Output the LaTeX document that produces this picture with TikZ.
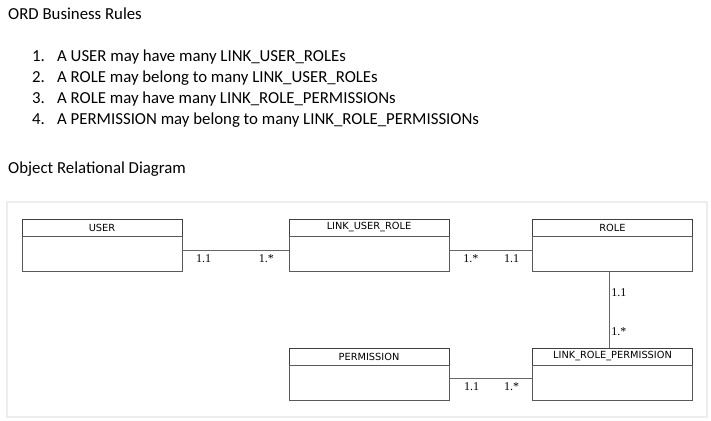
\documentclass[tikz,border=0pt]{standalone}
\usepackage{fontspec}
\setmainfont{Carlito}
\newfontfamily\boxfont{DejaVu Sans}
\newfontfamily\multfont{Liberation Serif}
\usetikzlibrary{positioning}

\tikzstyle{head} = [draw=black!75, minimum width=160pt, minimum height=17pt, inner sep=0pt, font=\boxfont\fontsize{9.8}{11}\selectfont]
\tikzstyle{body} = [draw=black!65, minimum width=160pt, minimum height=35pt, inner sep=0pt]
\tikzstyle{mult} = [font=\multfont\fontsize{12}{13}\selectfont, inner sep=1pt]
\tikzstyle{link} = [draw=black!60, line width=0.8pt]

\begin{document}
\begin{tikzpicture}[x=1pt,y=-1pt,font=\fontsize{16.8}{20}\selectfont]
\useasboundingbox (0,0) rectangle (711,420);
\node [anchor=base west, inner sep=0pt] (title) at (8,20) {ORD Business Rules};
\foreach \txt [count=\i] in {A USER may have many LINK\_USER\_ROLEs,
		A ROLE may belong to many LINK\_USER\_ROLEs,
		A ROLE may have many LINK\_ROLE\_PERMISSIONs,
		A PERMISSION may belong to many LINK\_ROLE\_PERMISSIONs}
	{
	\node [anchor=base west, inner sep=0pt] (n\i) at (32,41.3+20.7*\i) {\i.};
	\node [anchor=base west, inner sep=0pt] (r\i) at (57,41.3+20.7*\i) {\txt};
	}
\node [anchor=base west, inner sep=0pt] (ord) at (8,173) {Object Relational Diagram};
\draw [black!7, line width=1.5pt] (7,202) rectangle (707,417);

% classes
\node [head] (u) at (102,227.5) {USER};
\node [body, below=0pt of u] (ub) {};
\node [head] (lur) at (369,227.5) {LINK\_USER\_ROLE};
\node [body, below=0pt of lur] (lurb) {};
\node [head] (r) at (612.5,227.5) {ROLE};
\node [body, below=0pt of r] (rb) {};
\node [head] (p) at (369,356.5) {PERMISSION};
\node [body, below=0pt of p] (pb) {};
\node [head] (lrp) at (612.5,356.5) {LINK\_ROLE\_PERMISSION};
\node [body, below=0pt of lrp] (lrpb) {};

% associations
\draw [link] ([yshift=3.5pt]ub.east) -- ([yshift=3.5pt]lurb.west)
	node [mult, pos=0.2, below=2.5pt] {1.1}
	node [mult, pos=0.79, below=2.5pt] {1.*};
\draw [link] ([yshift=3.5pt]lurb.east) -- ([yshift=3.5pt]rb.west)
	node [mult, pos=0.26, below=2.5pt] {1.*}
	node [mult, pos=0.75, below=2.5pt] {1.1};
\draw [link] ([xshift=-3.5pt]rb.south) -- ([xshift=-3.5pt]lrp.north)
	node [mult, pos=0.27, right=1pt] {1.1}
	node [mult, pos=0.79, right=1pt] {1.*};
\draw [link] ([yshift=4.5pt]pb.east) -- ([yshift=4.5pt]lrpb.west)
	node [mult, pos=0.27, below=2.5pt] {1.1}
	node [mult, pos=0.75, below=2.5pt] {1.*};
\end{tikzpicture}
\end{document}
